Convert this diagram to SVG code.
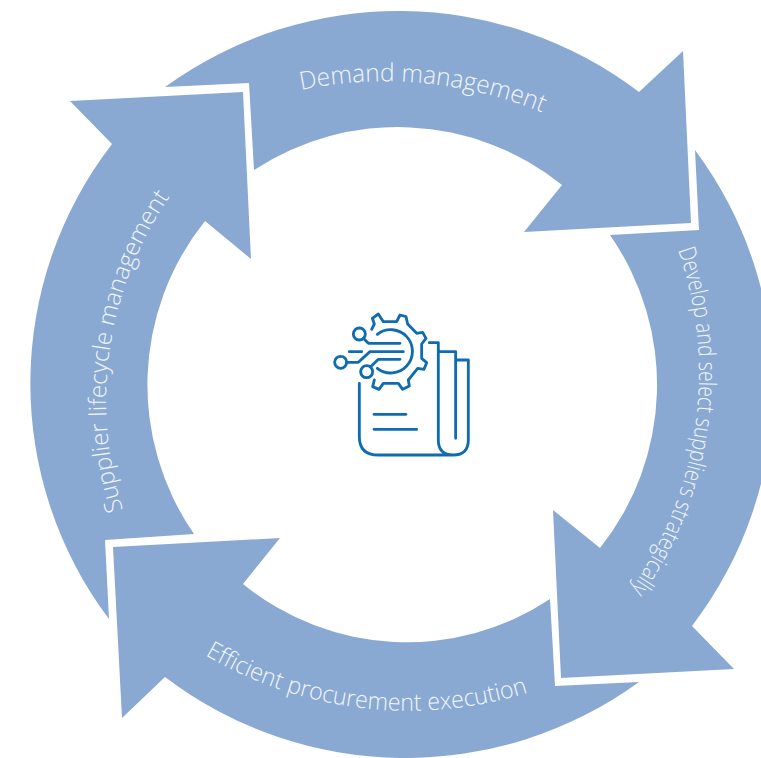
<svg xmlns="http://www.w3.org/2000/svg" width="761" height="758" viewBox="0 0 761 758">
<style>
.arrow{fill:#89a9d2}
.lbl{fill:#f1f5fa;font-family:"Open Sans","Liberation Sans",sans-serif;font-weight:300;font-size:24px}
.ic{fill:none;stroke:#0f6cb0;stroke-width:8.5;stroke-linecap:round;stroke-linejoin:round}
</style>
<defs>
<path id="t1" d="M301,90 A412,412 0 0 1 600,142"/>
<path id="t2" d="M678,250 A375,375 0 0 1 620,604"/>
<path id="t3" d="M205,655 A400,400 0 0 0 600,662"/>
<path id="t4" d="M123,510 A360,360 0 0 1 190,170"/>
</defs>
<rect width="761" height="758" fill="#fff"/>
<g id="connectors">
<g id="arrow-demand"><path class="arrow" d="M165,87 L249,83 L254,170 A262,262 0 0 1 562,185 L524,232 L691,223 L683,51 L639,92 A397,397 0 0 0 165,87Z"/>
<text class="lbl" style="font-size:25px"><textPath href="#t1" textLength="246" lengthAdjust="spacingAndGlyphs">Demand management</textPath></text></g>
<g id="arrow-develop"><path class="arrow" d="M695,150 L699,230 L610,235 A262,262 0 0 1 600,548 L553,510 L561,678 L734,669 L692,626 A395,395 0 0 0 695,150Z"/>
<text class="lbl"><textPath href="#t2" textLength="356" lengthAdjust="spacingAndGlyphs">Develop and select suppliers strategically</textPath></text></g>
<g id="arrow-efficient"><path class="arrow" d="M639,682 L555,686 L550,599 A259,259 0 0 1 243,584 L280,538 L113,547 L122,718 L165,677 A397,397 0 0 0 639,682Z"/>
<text class="lbl"><textPath href="#t3" textLength="335" lengthAdjust="spacingAndGlyphs">Efficient procurement execution</textPath></text></g>
<g id="arrow-supplier"><path class="arrow" d="M109,619 L105,540 L194,534 A262,262 0 0 1 205,221 L251,259 L243,92 L70,101 L112,144 A392,392 0 0 0 109,619Z"/>
<text class="lbl"><textPath href="#t4" textLength="328" lengthAdjust="spacingAndGlyphs">Supplier lifecycle management</textPath></text></g>
</g>
<g id="center-icon" transform="translate(320,300) scale(0.3333)">
<path class="ic" d="M155,88 L163,72 L157,55 L175,42 L190,65 L230,65 L240,45 L258,50 L263,72 L290,100 L308,97 L318,115 L305,132 L305,175 L320,188 L312,208 L293,205 L265,240 L268,258 L248,268 L235,250 L190,250 L177,268 L158,260 L163,240"/>
<path class="ic" d="M172,103 A65,65 0 1 1 172,205"/>
<circle class="ic" cx="118" cy="102" r="18"/>
<circle class="ic" cx="62" cy="187" r="18"/>
<circle class="ic" cx="140" cy="215" r="18"/>
<path class="ic" d="M130,115 L145,130 H240 M80,187 H115 L150,155 H250 M88,155 H125 M152,200 L175,178 H240"/>
<path class="ic" d="M118,250 V410 Q118,465 175,465 H400 M328,128 H355 V420 Q355,465 400,465 Q445,465 445,420 V180 H407 M360,155 H407 V415"/>
<path class="ic" d="M162,343 H258 M162,388 H290"/>
</g>
</svg>
